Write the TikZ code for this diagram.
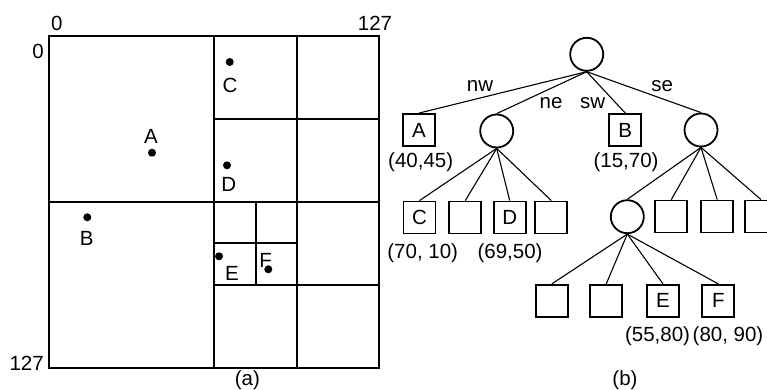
\documentclass[tikz,border=0pt]{standalone}
\usepackage{fontspec}
\setmainfont{Liberation Sans}
\begin{document}
\begin{tikzpicture}[x=1pt,y=-1pt,
  lbl/.style={inner sep=0pt,font=\fontsize{20.5}{24}\selectfont},
  frame/.style={line width=2.2pt},
  dot/.style={circle,fill=black,inner sep=0pt,minimum size=8pt},
  inode/.style={circle,draw,line width=1.8pt,minimum size=33pt,inner sep=0pt},
  leaf/.style={rectangle,draw,line width=1.8pt,minimum size=32pt,inner sep=0pt,font=\fontsize{20.5}{24}\selectfont},
  edge/.style={line width=1.1pt}]
\useasboundingbox (0,0) rectangle (767,390);
\clip (0,0) rectangle (767,390);
% ---------- (a) quadtree subdivision ----------
\draw[frame] (49,36) rectangle (379,368);
\draw[frame] (214,36) -- (214,368);
\draw[frame] (49,202) -- (379,202);
\draw[frame] (297,36) -- (297,368);
\draw[frame] (214,119) -- (379,119);
\draw[frame] (214,285) -- (379,285);
\draw[frame] (256,202) -- (256,285);
\draw[frame] (214,243) -- (297,243);
% axis labels
\node[lbl] (x0) at (56.7,23) {0};
\node[lbl] (x127) at (375,23) {127};
\node[lbl] (y0) at (38,51) {0};
\node[lbl] (y127) at (26.7,363.3) {127};
\node[lbl] (capa) at (247.3,380.5) {(a)};
% points
\node[dot] (pA) at (152,152.7) {};
\node[lbl] (lA) at (151,136.7) {A};
\node[dot] (pB) at (87.3,217.3) {};
\node[lbl] (lB) at (86.7,238.3) {B};
\node[dot] (pC) at (229.7,62) {};
\node[lbl] (lC) at (230,85) {C};
\node[dot] (pD) at (227,165.3) {};
\node[lbl] (lD) at (228.7,184) {D};
\node[dot] (pE) at (219,256.3) {};
\node[lbl] (lE) at (232,273.3) {E};
\node[dot] (pF) at (268.3,269.3) {};
\node[lbl] (lF) at (265.7,260) {F};
% ---------- (b) quadtree ----------
\node[inode] (root) at (586.7,54.3) {};
\node[leaf] (A) at (419,130) {A};
\node[inode] (ne) at (496.7,131) {};
\node[leaf] (B) at (625.3,130) {B};
\node[inode] (se) at (701,130) {};
\draw[edge] (root.south) -- (A.north);
\draw[edge] (root.south) -- (ne.north);
\draw[edge] (root.south) -- (B.north);
\draw[edge] (root.south) -- (se.north);
\node[lbl] (nw) at (480,85.7) {nw};
\node[lbl] (nel) at (551,103.3) {ne};
\node[lbl] (sw) at (592.7,103.3) {sw};
\node[lbl] (sel) at (662.3,85.7) {se};
\node[lbl] (cA) at (420.7,162.3) {(40,45)};
\node[lbl] (cB) at (626,162.3) {(15,70)};
% children of ne
\node[leaf] (C) at (419.5,217.5) {C};
\node[leaf] (n2) at (465.3,217.5) {};
\node[leaf] (D) at (509.7,217.5) {D};
\node[leaf] (n4) at (551.3,217.5) {};
\foreach \c in {C,n2,D,n4} \draw[edge] (ne.south) -- (\c.north);
\node[lbl] (cC) at (422.7,253.3) {(70, 10)};
\node[lbl] (cD) at (510,253.3) {(69,50)};
% children of se
\node[inode] (sw2) at (627.3,216.7) {};
\node[leaf] (s2) at (671.3,216.5) {};
\node[leaf] (s3) at (717.2,216.5) {};
\node[leaf] (s4) at (761,216.5) {};
\foreach \c in {sw2,s2,s3,s4} \draw[edge] (se.south) -- (\c.north);
% children of sw2
\node[leaf] (t1) at (551.8,300.8) {};
\node[leaf] (t2) at (606.2,300.8) {};
\node[leaf] (E) at (663,300.8) {E};
\node[leaf] (F) at (718.3,300.8) {F};
\foreach \c in {t1,t2,E,F} \draw[edge] (sw2.south) -- (\c.north);
\node[lbl] (cE) at (657.5,336) {(55,80)};
\node[lbl] (cF) at (728,336) {(80, 90)};
\node[lbl] (capb) at (625,380.5) {(b)};
\end{tikzpicture}
\end{document}
